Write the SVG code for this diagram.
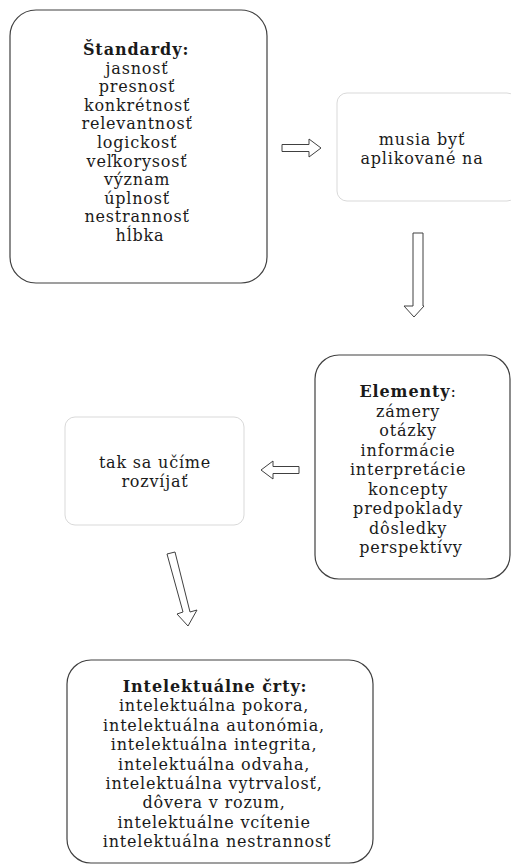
<svg xmlns="http://www.w3.org/2000/svg" width="511" height="866" viewBox="0 0 511 866">
<style>
.dark{fill:#fff;stroke:#404040;stroke-width:1.2}
.light{fill:#fff;stroke:#d9d9d9;stroke-width:1}
text{font-family:"DejaVu Serif","Liberation Serif",serif;font-size:16px;letter-spacing:0.8px;fill:#1a1a1a;text-anchor:middle}
.b{font-weight:bold;letter-spacing:0.9px}
.arrow{fill:#fff;stroke:#404040;stroke-width:1}
</style>
<rect width="511" height="866" fill="#fff"/>
<g id="standardy">
<rect class="dark" x="10" y="10" width="257" height="273" rx="26"/>
<text x="139" y="55"><tspan class="b">Štandardy:</tspan>
<tspan x="140" dy="18.6">jasnosť</tspan>
<tspan x="140" dy="18.6">presnosť</tspan>
<tspan x="140" dy="18.6">konkrétnosť</tspan>
<tspan x="140" dy="18.6">relevantnosť</tspan>
<tspan x="140" dy="18.6">logickosť</tspan>
<tspan x="140" dy="18.6">veľkorysosť</tspan>
<tspan x="140" dy="18.6">význam</tspan>
<tspan x="140" dy="18.6">úplnosť</tspan>
<tspan x="140" dy="18.6">nestrannosť</tspan>
<tspan x="140" dy="18.6">hĺbka</tspan></text>
</g>
<g id="aplikovane">
<rect class="light" x="337" y="93" width="180" height="108" rx="10"/>
<text x="422" y="145">musia byť<tspan x="422" dy="18.6">aplikované na</tspan></text>
</g>
<g id="elementy">
<rect class="dark" x="315" y="355" width="195" height="224" rx="24"/>
<text x="411" y="397"><tspan class="b">Elementy</tspan>:
<tspan x="411" dy="19.5">zámery</tspan>
<tspan x="411" dy="19.5">otázky</tspan>
<tspan x="411" dy="19.5">informácie</tspan>
<tspan x="411" dy="19.5">interpretácie</tspan>
<tspan x="411" dy="19.5">koncepty</tspan>
<tspan x="411" dy="19.5">predpoklady</tspan>
<tspan x="411" dy="19.5">dôsledky</tspan>
<tspan x="411" dy="19.5">perspektívy</tspan></text>
</g>
<g id="rozvijat">
<rect class="light" x="65" y="417" width="179" height="108" rx="10"/>
<text x="155" y="468">tak sa učíme<tspan x="155" dy="19">rozvíjať</tspan></text>
</g>
<g id="crty">
<rect class="dark" x="67" y="660" width="306" height="203" rx="24"/>
<text x="218" y="692"><tspan class="b">Intelektuálne črty:</tspan>
<tspan x="217" dy="19.4">intelektuálna pokora,</tspan>
<tspan x="217" dy="19.4">intelektuálna autonómia,</tspan>
<tspan x="217" dy="19.4">intelektuálna integrita,</tspan>
<tspan x="217" dy="19.4">intelektuálna odvaha,</tspan>
<tspan x="217" dy="19.4">intelektuálna vytrvalosť,</tspan>
<tspan x="217" dy="19.4">dôvera v rozum,</tspan>
<tspan x="217" dy="19.4">intelektuálne vcítenie</tspan>
<tspan x="217" dy="19.4">intelektuálna nestrannosť</tspan></text>
</g>
<g id="connectors">
<path class="arrow" d="M282,144.5 H309 V139 L321,148 L309,157 V151.5 H282 Z"/>
<path class="arrow" d="M413,233 H423 V306 H424 L414,317 L404,306 H413 Z"/>
<path class="arrow" d="M299,466.5 H273 V461 L261,470 L273,479 V473.5 H299 Z"/>
<path class="arrow" d="M167,554 L175,552 L190,612 L197,610 L188,626 L177,614 L183,612 Z"/>
</g>
</svg>
